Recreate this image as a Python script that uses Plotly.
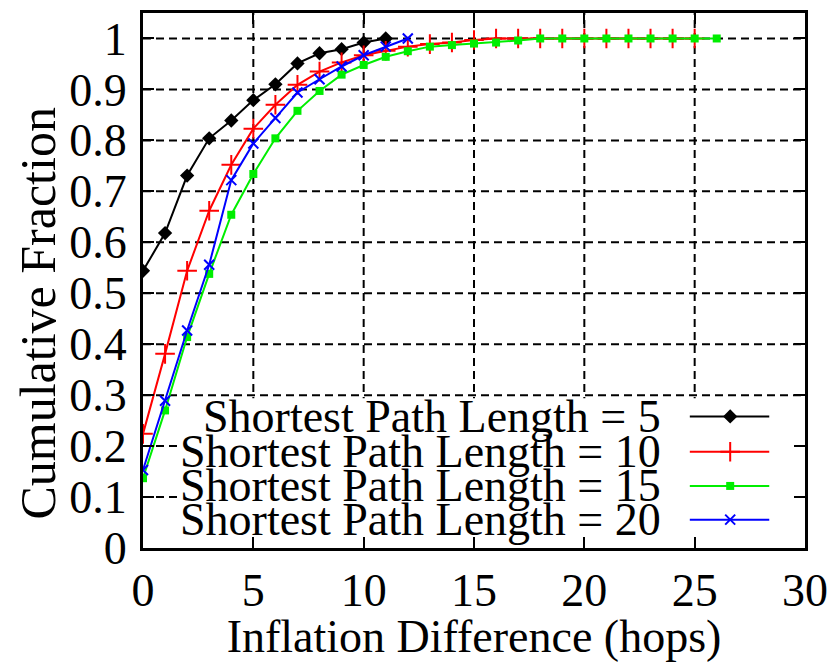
import plotly.graph_objects as go

# ---- data ----
x_sp5 = list(range(12))
y_sp5 = [0.544, 0.618, 0.731, 0.804, 0.839, 0.879, 0.910, 0.951, 0.971, 0.979, 0.992, 1.0]

x_sp10 = list(range(26))
y_sp10 = [0.224, 0.381, 0.544, 0.662, 0.752, 0.823, 0.870, 0.909, 0.935, 0.953,
          0.967, 0.976, 0.984, 0.989, 0.992, 0.997, 1.0, 1.0, 1.0, 1.0,
          1.0, 1.0, 1.0, 1.0, 1.0, 1.0]

x_sp15 = list(range(27))
y_sp15 = [0.137, 0.270, 0.414, 0.538, 0.654, 0.734, 0.804, 0.858, 0.897, 0.929,
          0.948, 0.964, 0.975, 0.984, 0.987, 0.990, 0.992, 0.996, 1.0, 1.0,
          1.0, 1.0, 1.0, 1.0, 1.0, 1.0, 1.0]

x_sp20 = list(range(13))
y_sp20 = [0.153, 0.289, 0.427, 0.556, 0.722, 0.794, 0.844, 0.894, 0.920, 0.945, 0.967, 0.984, 1.0]

labels = ["Shortest Path Length = 5", "Shortest Path Length = 10",
          "Shortest Path Length = 15", "Shortest Path Length = 20"]
colors = ["#000000", "#ff0000", "#00ee00", "#0000ff"]
symbols = ["diamond", "cross-thin", "square", "x-thin"]
msizes = [11, 14, 8, 10]

x_ticks = [0, 5, 10, 15, 20, 25, 30]
y_ticks = [0, 0.1, 0.2, 0.3, 0.4, 0.5, 0.6, 0.7, 0.8, 0.9, 1]

xs = [x_sp5, x_sp10, x_sp15, x_sp20]
ys = [y_sp5, y_sp10, y_sp15, y_sp20]

FONT = "Liberation Serif, Times New Roman, serif"

fig = go.Figure()


def marker_for(i):
    m = dict(symbol=symbols[i], size=msizes[i], color=colors[i])
    if "thin" in symbols[i]:
        m["line"] = dict(color=colors[i], width=2)
    return m


for i in range(4):
    fig.add_trace(go.Scatter(x=xs[i], y=ys[i], mode="lines+markers", name=labels[i],
                             line=dict(color=colors[i], width=2), marker=marker_for(i),
                             showlegend=False))

# dashed grid drawn as below-layer shapes so the opaque key box can hide it
grid_line = dict(color="black", width=2, dash="8px,5px")
for xv in x_ticks[1:-1]:
    fig.add_shape(type="line", xref="x", yref="y domain", x0=xv, x1=xv, y0=0, y1=1,
                  line=grid_line, layer="below")
for yv in y_ticks[1:]:
    fig.add_shape(type="line", xref="x domain", yref="y", x0=0, x1=1, y0=yv, y1=yv,
                  line=grid_line, layer="below")

# opaque key box
fig.add_shape(type="rect", xref="x domain", yref="y domain", x0=0.056, x1=1.0, y0=0.0, y1=0.28,
              fillcolor="white", line=dict(width=0), layer="below")

# manual gnuplot-style key (text left, sample right) on an overlay axis pair
row_y = [0.246, 0.180, 0.116, 0.053]
for i in range(4):
    fig.add_trace(go.Scatter(x=[0.826, 0.946], y=[row_y[i]] * 2, mode="lines",
                             line=dict(color=colors[i], width=2), xaxis="x2", yaxis="y2",
                             showlegend=False, hoverinfo="skip"))
    fig.add_trace(go.Scatter(x=[0.887], y=[row_y[i]], mode="markers", marker=marker_for(i),
                             xaxis="x2", yaxis="y2", showlegend=False, hoverinfo="skip"))
    fig.add_annotation(x=0.786, y=row_y[i], xref="x2", yref="y2", text=labels[i],
                       showarrow=False, xanchor="right", yanchor="middle",
                       font=dict(family=FONT, size=46, color="black"))

# y-axis title placed like gnuplot's
fig.add_annotation(x=-0.158, y=0.439, xref="paper", yref="paper", text="Cumulative Fraction",
                   textangle=-90, showarrow=False, xanchor="center", yanchor="middle",
                   font=dict(family=FONT, size=50, color="black"))

axis_common = dict(showline=True, linecolor="black", linewidth=3, mirror="allticks",
                   ticks="inside", ticklen=11, tickwidth=2, tickcolor="black",
                   showgrid=False, zeroline=False,
                   tickfont=dict(family=FONT, size=46, color="black"))

fig.update_layout(
    width=838, height=662,
    margin=dict(l=143, r=33, t=10, b=114),
    paper_bgcolor="white", plot_bgcolor="white",
    xaxis=dict(range=[0, 30], tickvals=x_ticks,
               title=dict(text="Inflation Difference (hops)", standoff=4,
                          font=dict(family=FONT, size=46, color="black")),
               **axis_common),
    yaxis=dict(range=[0, 1.05], tickvals=y_ticks, ticklabelstandoff=4,
               **axis_common),
    xaxis2=dict(range=[0, 1], overlaying="x", visible=False, fixedrange=True),
    yaxis2=dict(range=[0, 1], overlaying="y", visible=False, fixedrange=True),
)

fig.write_html("out.html")
